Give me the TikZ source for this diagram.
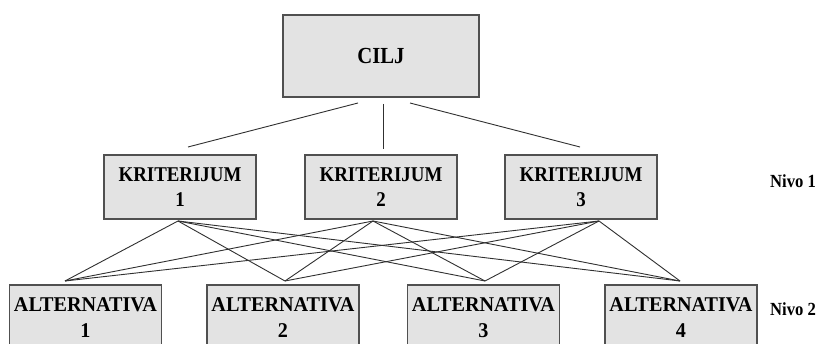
\documentclass[tikz,border=0pt]{standalone}
\usepackage{fontspec}
\setmainfont{Liberation Serif}
\newfontfamily\lblfont{Liberation Serif}[FakeStretch=0.9]
\newfontfamily\altfont{Liberation Serif}[FakeStretch=0.96]
\definecolor{boxfill}{HTML}{E3E3E3}
\definecolor{boxline}{HTML}{505050}
\definecolor{conn}{HTML}{303030}
\begin{document}
\begin{tikzpicture}[x=1pt,y=-1pt,
  box/.style={draw=boxline,fill=boxfill,line width=1.3pt,inner sep=0pt,outer sep=0pt,
    minimum width=152pt,minimum height=64pt,align=center,
    font=\lblfont\bfseries\fontsize{21}{25}\selectfont},
  goalbox/.style={box,minimum width=196pt,minimum height=82pt,font=\lblfont\bfseries\fontsize{23}{25}\selectfont},
  altbox/.style={box,minimum height=65pt,font=\altfont\bfseries\fontsize{21}{25.5}\selectfont},
  conline/.style={draw=conn,line width=0.9pt},
  lvl/.style={font=\lblfont\bfseries\fontsize{18.5}{18}\selectfont,inner sep=0pt}]
\useasboundingbox (0,0) rectangle (820,344);
\clip (0,0) rectangle (820,344);
\fill[white] (0,0) rectangle (820,344);
% nodes
\node[goalbox] (cilj) at (381,56) {CILJ};
\node[box] (k1) at (180,187) {KRITERIJUM\\1};
\node[box] (k2) at (381,187) {KRITERIJUM\\2};
\node[box] (k3) at (581,187) {KRITERIJUM\\3};
\node[altbox] (a1) at (85.5,317.5) {ALTERNATIVA\\1};
\node[altbox] (a2) at (283,317.5) {ALTERNATIVA\\2};
\node[altbox] (a3) at (483.5,317.5) {ALTERNATIVA\\3};
\node[altbox] (a4) at (681,317.5) {ALTERNATIVA\\4};
\node[lvl] (n1) at (793,181) {Nivo 1};
\node[lvl] (n2) at (793,309) {Nivo 2};
% connector end points
\coordinate (c1) at (358,103);
\coordinate (c2) at (383,104);
\coordinate (c3) at (410,103);
\coordinate (k1t) at (188,147);
\coordinate (k2t) at (383,149);
\coordinate (k3t) at (580,147);
\coordinate (k1b) at (178,221);
\coordinate (k2b) at (373,221);
\coordinate (k3b) at (599,221);
\coordinate (a1t) at (65,281);
\coordinate (a2t) at (285,281);
\coordinate (a3t) at (485,281);
\coordinate (a4t) at (680,281);
% connectors
\draw[conline] (c1) -- (k1t);
\draw[conline] (c2) -- (k2t);
\draw[conline] (c3) -- (k3t);
\foreach \k in {k1b,k2b,k3b}{
  \foreach \a in {a1t,a2t,a3t,a4t}{
    \draw[conline] (\k) -- (\a);
  }
}
\end{tikzpicture}
\end{document}
